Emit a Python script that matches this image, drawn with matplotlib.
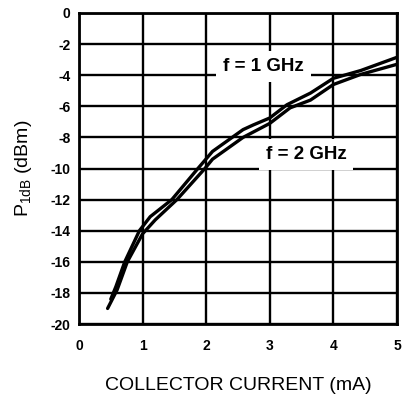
import matplotlib
matplotlib.use("Agg")
import matplotlib.pyplot as plt

plt.rcParams['font.family'] = ['Liberation Sans', 'DejaVu Sans']
plt.rcParams['mathtext.fontset'] = 'custom'
plt.rcParams['mathtext.rm'] = 'Liberation Sans'

# P1dB vs collector current
i_1ghz = [0.50, 0.58, 0.72, 0.95, 1.12, 1.46, 1.87, 2.10, 2.58, 2.74, 3.00, 3.27, 3.64, 4.00, 4.43, 5.00]
p_1ghz = [-18.4, -17.6, -16.0, -14.0, -13.1, -12.0, -10.0, -8.9, -7.5, -7.2, -6.75, -5.9, -5.15, -4.2, -3.7, -2.85]
i_2ghz = [0.45, 0.60, 0.76, 1.00, 1.20, 1.54, 1.98, 2.10, 2.58, 3.00, 3.32, 3.64, 4.00, 4.43, 5.00]
p_2ghz = [-19.0, -17.8, -16.0, -14.2, -13.3, -12.0, -10.0, -9.4, -8.0, -7.1, -6.1, -5.6, -4.6, -3.95, -3.3]

xticks = [0, 1, 2, 3, 4, 5]
yticks = list(range(-20, 1, 2))

fig = plt.figure(figsize=(4.03, 4.0), dpi=100)
ax = fig.add_axes([0.196, 0.19, 0.789, 0.7775])

ax.plot(i_1ghz, p_1ghz, color='black', lw=2.4, solid_capstyle='round', solid_joinstyle='round', zorder=3)
ax.plot(i_2ghz, p_2ghz, color='black', lw=2.4, solid_capstyle='round', solid_joinstyle='round', zorder=3)

ax.set_xlim(0, 5)
ax.set_ylim(-20, 0)
ax.set_xticks(xticks)
ax.set_yticks(yticks)
ax.set_xticklabels([str(t) for t in xticks], fontsize=10, fontweight='bold')
ax.set_yticklabels([str(t) for t in yticks], fontsize=10, fontweight='bold')
ax.tick_params(length=0)
ax.tick_params(axis='x', pad=11)
ax.tick_params(axis='y', pad=6)

ax.grid(True, color='black', lw=1.7)
ax.set_axisbelow(True)
for s in ax.spines.values():
    s.set_linewidth(2.0)

box = dict(facecolor='white', edgecolor='none', pad=5)
ax.text(2.9, -3.45, 'f = 1 GHz', fontsize=13.5, fontweight='bold', ha='center', va='center',
        bbox=box, zorder=4)
ax.text(3.57, -9.1, 'f = 2 GHz', fontsize=13.5, fontweight='bold', ha='center', va='center',
        bbox=box, zorder=4)

ax.set_xlabel('COLLECTOR CURRENT (mA)', fontsize=14, labelpad=17)
ax.set_ylabel(r'P$_{\mathregular{1dB}}$ (dBm)', fontsize=14, labelpad=12)

fig.savefig('out.png', dpi=100)
